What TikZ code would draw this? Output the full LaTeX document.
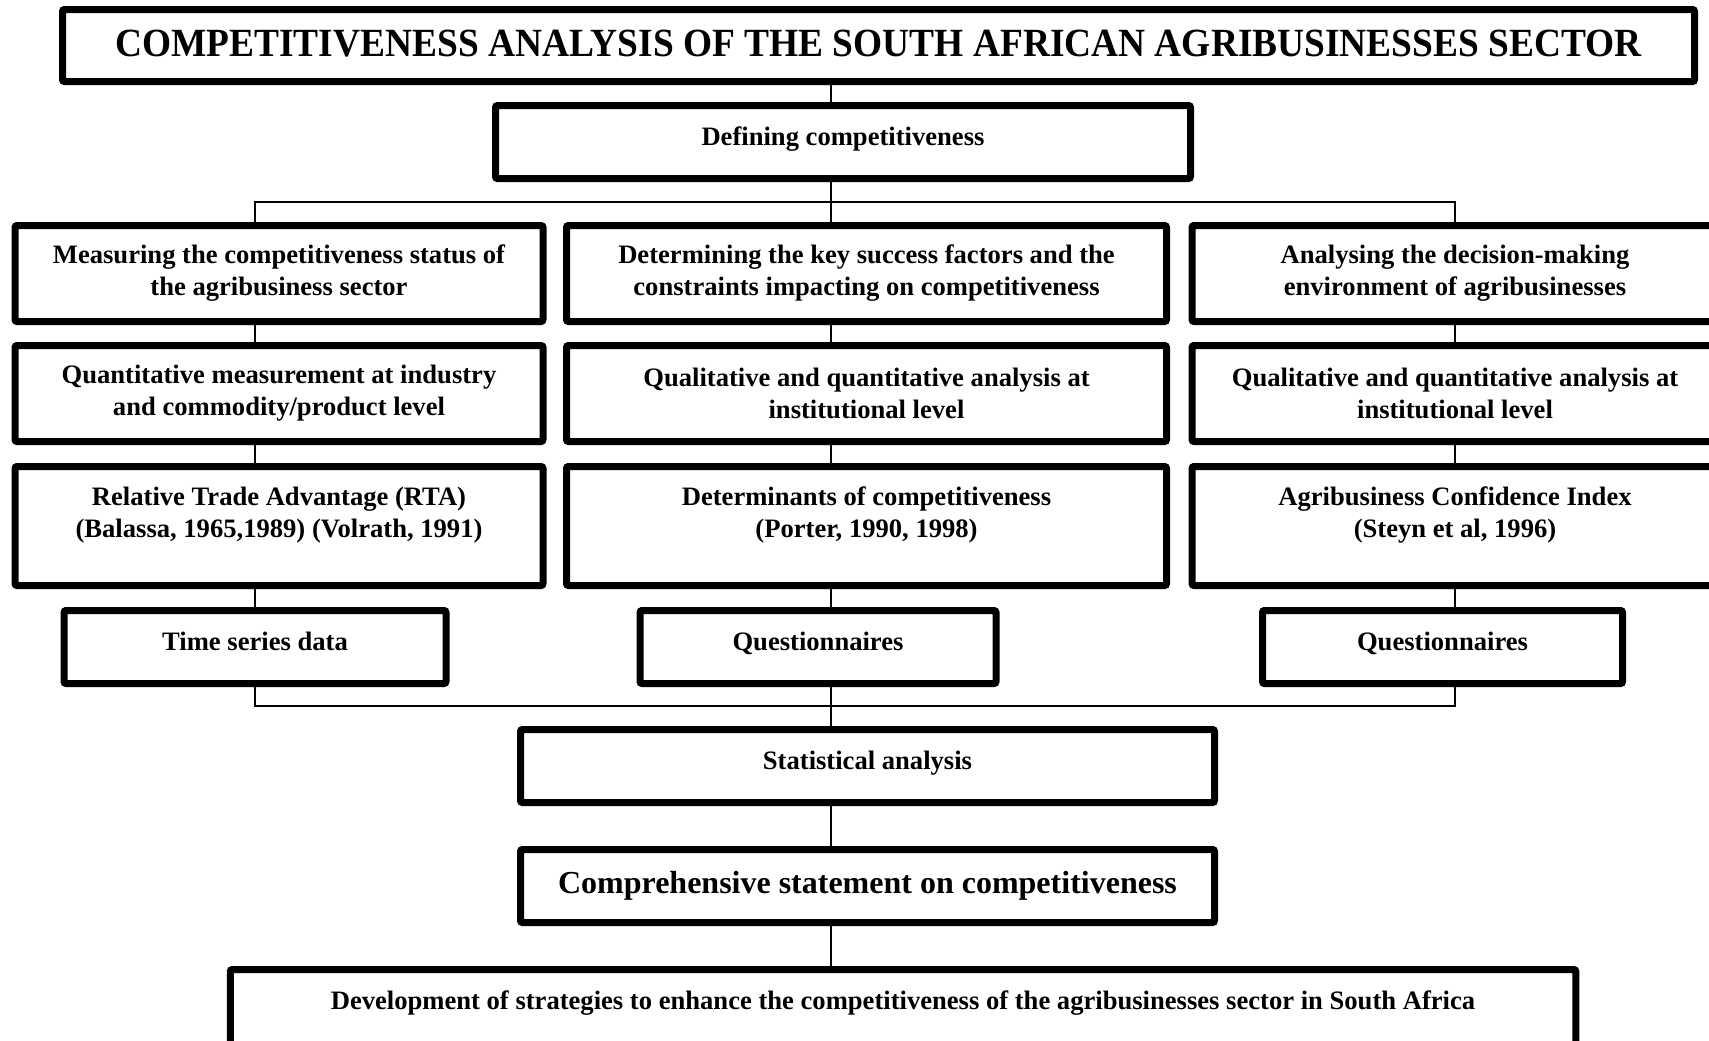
\documentclass[tikz,border=0pt]{standalone}
\usepackage{fontspec}
\setmainfont{Liberation Serif}
\newfontfamily\titlefont[FakeStretch=0.935]{Liberation Serif}
\usepackage{tikz}
\usetikzlibrary{positioning}

\begin{document}
\begin{tikzpicture}[
  x=0.5pt, y=-0.5pt,
  node distance=9pt,
  framebase/.style={rectangle, rounded corners=1pt, draw=black, line width=3.5pt, inner sep=0pt, align=center, font=\bfseries\fontsize{13.3}{16}\selectfont},
  titlebox/.style={framebase, minimum width=816pt, minimum height=36pt, text depth=2pt, font=\titlefont\bfseries\fontsize{20}{24}\selectfont},
  headbox/.style={framebase, minimum height=36.5pt, text height=9pt, text depth=5.5pt},
  stagebox/.style={framebase, minimum height=48pt},
  sourcebox/.style={framebase, minimum height=59.5pt},
  link/.style={draw=black, line width=0.6pt}
]
  \useasboundingbox (0,0) rectangle (1709,1040);

  % Spines and buses for the connectors
  \coordinate (spine-l) at (255,0);
  \coordinate (spine-m) at (831,0);
  \coordinate (spine-r) at (1455,0);
  \coordinate (bus-top) at (0,202);
  \coordinate (bus-low) at (0,706);

  % Title and definition
  \node[titlebox] (title) at (878.5,45.5) {COMPETITIVENESS ANALYSIS OF THE SOUTH AFRICAN AGRIBUSINESSES SECTOR};
  \node[headbox, minimum width=347.5pt] (define) at (843,142) {Defining competitiveness};

  % Three lines of analysis
  \node[stagebox, minimum width=264pt] (stage-measure) at (279,273.5) {Measuring the competitiveness status of\\the agribusiness sector};
  \node[stagebox, minimum width=300pt] (stage-determine) at (866.5,273.5) {Determining the key success factors and the\\constraints impacting on competitiveness};
  \node[stagebox, minimum width=263pt] (stage-analyse) at (1455,273.5) {Analysing the decision-making\\environment of agribusinesses};

  % Level of analysis
  \node[stagebox, minimum width=264pt, below=8.5pt of stage-measure] (method-quant) {Quantitative measurement at industry\\and commodity/product level};
  \node[stagebox, minimum width=300pt, below=8.5pt of stage-determine] (method-mid) {Qualitative and quantitative analysis at\\institutional level};
  \node[stagebox, minimum width=263pt, below=8.5pt of stage-analyse] (method-right) {Qualitative and quantitative analysis at\\institutional level};

  % Measures from the literature
  \node[sourcebox, minimum width=264pt, below=of method-quant] (source-rta) {Relative Trade Advantage (RTA)\\(Balassa, 1965,1989) (Volrath, 1991)\\[-2.4pt]\mbox{}};
  \node[sourcebox, minimum width=300pt, below=of method-mid] (source-porter) {Determinants of competitiveness\\(Porter, 1990, 1998)\\[-2.4pt]\mbox{}};
  \node[sourcebox, minimum width=263pt, below=of method-right] (source-index) {Agribusiness Confidence Index\\(Steyn et al, 1996)\\[-2.4pt]\mbox{}};

  % Data
  \node[headbox, minimum width=191pt, below=of source-rta, xshift=-12pt] (data-ts) {Time series data};
  \node[headbox, minimum width=178pt, below=of source-porter, xshift=-24.25pt] (data-qm) {Questionnaires};
  \node[headbox, minimum width=180pt, below=of source-index, xshift=-6.25pt] (data-qr) {Questionnaires};

  % Synthesis
  \node[headbox, minimum width=347pt] (stats) at (867.5,766) {Statistical analysis};
  \node[framebase, minimum width=347pt, minimum height=36.5pt, below=20pt of stats, font=\bfseries\fontsize{16}{19}\selectfont] (statement) {Comprehensive statement on competitiveness};
  \node[headbox, minimum width=672.75pt, minimum height=37.5pt, text depth=7pt, below=20pt of statement, xshift=17.75pt] (strategy) {Development of strategies to enhance the competitiveness of the agribusinesses sector in South Africa};

  % Connectors
  \draw[link] (title.south -| spine-m) -- (define.north -| spine-m);
  \draw[link] (define.south -| spine-m) -- (stage-determine.north -| spine-m);
  \draw[link] (stage-measure.north -| spine-l) -- (bus-top -| spine-l) -- (bus-top -| spine-r) -- (stage-analyse.north -| spine-r);

  \draw[link] (stage-measure.south -| spine-l) -- (method-quant.north -| spine-l);
  \draw[link] (method-quant.south -| spine-l) -- (source-rta.north -| spine-l);
  \draw[link] (source-rta.south -| spine-l) -- (data-ts.north -| spine-l);
  \draw[link] (stage-determine.south -| spine-m) -- (method-mid.north -| spine-m);
  \draw[link] (method-mid.south -| spine-m) -- (source-porter.north -| spine-m);
  \draw[link] (source-porter.south -| spine-m) -- (data-qm.north -| spine-m);
  \draw[link] (stage-analyse.south -| spine-r) -- (method-right.north -| spine-r);
  \draw[link] (method-right.south -| spine-r) -- (source-index.north -| spine-r);
  \draw[link] (source-index.south -| spine-r) -- (data-qr.north -| spine-r);

  \draw[link] (data-ts.south -| spine-l) -- (bus-low -| spine-l) -- (bus-low -| spine-r) -- (data-qr.south -| spine-r);
  \draw[link] (data-qm.south -| spine-m) -- (stats.north -| spine-m);
  \draw[link] (stats.south -| spine-m) -- (statement.north -| spine-m);
  \draw[link] (statement.south -| spine-m) -- (strategy.north -| spine-m);
\end{tikzpicture}
\end{document}
